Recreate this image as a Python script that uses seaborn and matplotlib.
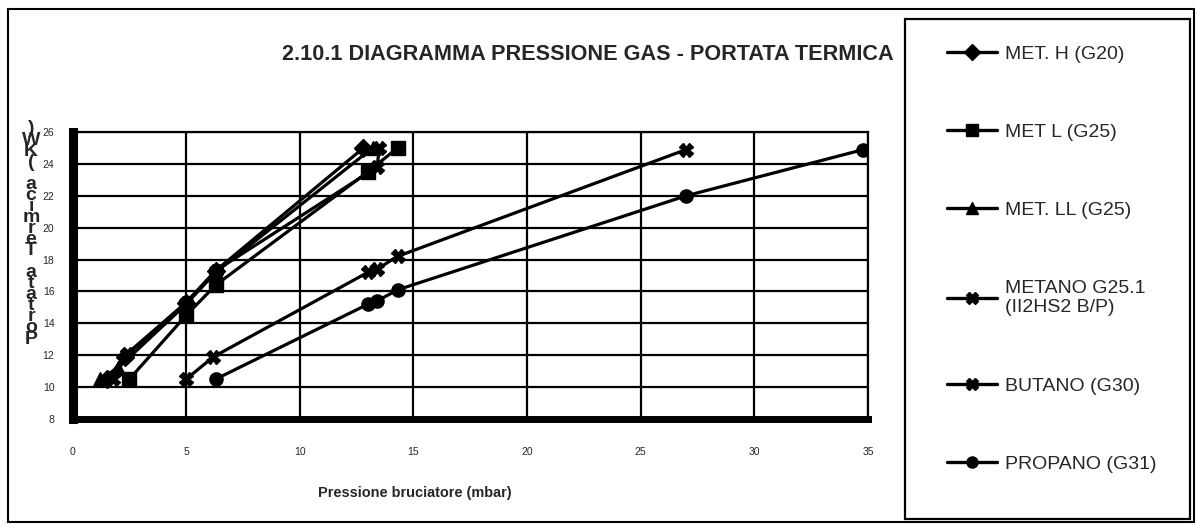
import matplotlib
matplotlib.use("Agg")
import matplotlib.pyplot as plt
from matplotlib.patches import Rectangle
import seaborn as sns
import pandas as pd

# ---------------- data ----------------
series_names = ["MET. H (G20)", "MET L (G25)", "MET. LL (G25)",
                "METANO G25.1\n(II2HS2 B/P)", "BUTANO (G30)", "PROPANO (G31)"]

met_h_x = [1.5, 2.3, 5.0, 6.3, 12.8]
met_h_y = [10.5, 11.9, 15.3, 17.3, 25.0]

met_l_x = [2.5, 5.0, 6.3, 13.0, 14.3]
met_l_y = [10.5, 14.5, 16.4, 23.5, 25.0]

met_ll_x = [1.2, 2.0, 5.0, 6.3, 13.2]
met_ll_y = [10.5, 11.2, 15.2, 17.2, 25.0]

metano_x = [1.8, 2.4, 5.0, 6.3, 13.4, 13.5]
metano_y = [10.5, 12.1, 15.3, 17.3, 23.8, 25.0]

butano_x = [5.0, 6.2, 13.0, 13.4, 14.3, 27.0]
butano_y = [10.5, 11.9, 17.2, 17.4, 18.2, 24.9]

propano_x = [6.3, 13.0, 13.4, 14.3, 27.0, 34.8]
propano_y = [10.5, 15.2, 15.4, 16.1, 22.0, 24.9]

x_ticks = [0, 5, 10, 15, 20, 25, 30, 35]
y_ticks = [8, 10, 12, 14, 16, 18, 20, 22, 24, 26]

title_text = "2.10.1 DIAGRAMMA PRESSIONE GAS - PORTATA TERMICA"
xlabel_text = "Pressione bruciatore (mbar)"
ylabel_text = "Portata Termica (KW)"

xs = [met_h_x, met_l_x, met_ll_x, metano_x, butano_x, propano_x]
ys = [met_h_y, met_l_y, met_ll_y, metano_y, butano_y, propano_y]
frames = []
for name, xx, yy in zip(series_names, xs, ys):
    frames.append(pd.DataFrame({"x": xx, "y": yy, "serie": name}))
df = pd.concat(frames, ignore_index=True)

marker_map = dict(zip(series_names, ["D", "s", "^", "X", "X", "o"]))

# ---------------- figure ----------------
sns.set_style("white")
plt.rcParams["font.family"] = ["Liberation Sans", "DejaVu Sans"]

W, H = 1196, 529
fig = plt.figure(figsize=(W / 100, H / 100), dpi=100)
fig.patch.set_facecolor("white")

ax_l, ax_r, ax_t, ax_b = 72.5, 868, 132, 419
ax = fig.add_axes([ax_l / W, 1 - ax_b / H, (ax_r - ax_l) / W, (ax_b - ax_t) / H])

sns.lineplot(data=df, x="x", y="y", hue="serie", style="serie",
             hue_order=series_names, style_order=series_names,
             palette=["black"] * 6, markers=marker_map, dashes=False,
             estimator=None, sort=False, linewidth=2.3, markersize=9.5,
             markeredgecolor="black", markeredgewidth=1.0, ax=ax, legend=True)

leg = ax.get_legend()
handles = list(leg.legend_handles)
labels = [t.get_text() for t in leg.texts]
leg.remove()
for hnd in handles:
    hnd.set_linewidth(2.4)
    hnd.set_markersize(8)

ax.set_xlim(0, 35)
ax.set_ylim(8, 26)
ax.set_xticks(x_ticks)
ax.set_yticks(y_ticks)
ax.set_xticklabels([str(v) for v in x_ticks])
ax.set_yticklabels([str(v) for v in y_ticks])
ax.grid(True, color="black", linewidth=1.6)
ax.set_axisbelow(True)
ax.set_xlabel("")
ax.set_ylabel("")
for side in ["top", "right"]:
    ax.spines[side].set_visible(True)
    ax.spines[side].set_color("black")
    ax.spines[side].set_linewidth(1.6)
ax.spines["left"].set_color("black")
ax.spines["left"].set_linewidth(6.5)
ax.spines["bottom"].set_color("black")
ax.spines["bottom"].set_linewidth(5.0)
ax.spines["left"].set_zorder(5)
ax.spines["bottom"].set_zorder(5)

ax.tick_params(axis="x", length=0, pad=20, labelsize=7.5)
ax.tick_params(axis="y", length=0, pad=13, labelsize=7.5)

# texts
title = fig.text(588 / W, 1 - 54 / H, title_text, ha="center", va="center",
                 fontsize=15, fontweight="bold")
xlab = fig.text(415 / W, 1 - 493 / H, xlabel_text, ha="center", va="center",
                fontsize=11, fontweight="bold")
ls0 = 0.5
ylab = fig.text(31 / W, 1 - 234 / H, "\n".join(reversed(list(ylabel_text))),
                ha="center", va="center", ma="center", fontsize=14,
                fontweight="bold", linespacing=ls0)

fig.canvas.draw()
rend = fig.canvas.get_renderer()


def fit(t, target_px):
    w = t.get_window_extent(rend).width
    t.set_fontsize(t.get_fontsize() * target_px / w)


fit(title, 612)
fit(xlab, 194)
h_y = ylab.get_window_extent(rend).height
ylab.set_linespacing(ls0 * 235 / h_y)

# legend
fs_leg = 14
lg = fig.legend(handles, labels, loc="upper left",
                bbox_to_anchor=(947 / W, 1 - 45 / H), frameon=False,
                fontsize=fs_leg, borderpad=0, borderaxespad=0,
                handlelength=50 / (fs_leg * 100 / 72), handletextpad=0.4,
                labelspacing=3.12)

# borders
fig.patches.append(Rectangle((8 / W, 1 - 522 / H), (1194 - 8) / W, (522 - 9) / H,
                             transform=fig.transFigure, fill=False,
                             edgecolor="black", linewidth=1.5))
fig.patches.append(Rectangle((905 / W, 1 - 519 / H), (1190 - 905) / W, (519 - 19) / H,
                             transform=fig.transFigure, fill=False,
                             edgecolor="black", linewidth=1.6))

fig.savefig("out.png", dpi=100)
